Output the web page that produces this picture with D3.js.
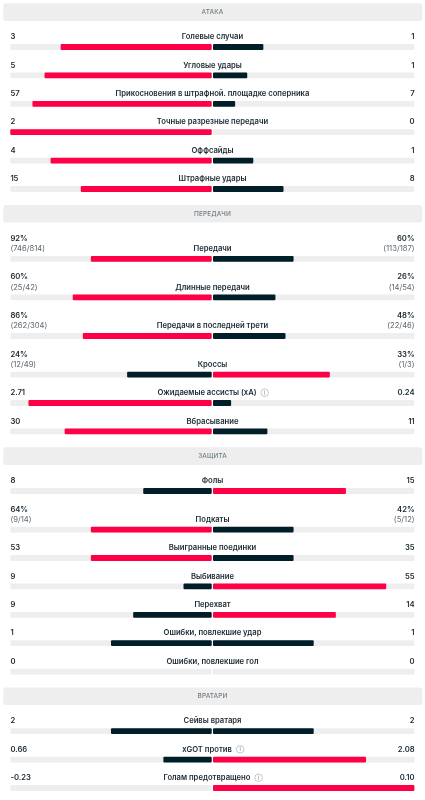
<!DOCTYPE html>
<html><head><meta charset="utf-8">
<script src="https://cdn.jsdelivr.net/npm/d3@7"></script>
<style>html,body{margin:0;padding:0;background:#fff}svg{display:block;filter:blur(0.3px)}text{font-family:Inter,Roboto,sans-serif}</style>
</head><body><div id="c"></div>
<script>
const sections = ["АТАКА","ПЕРЕДАЧИ","ЗАЩИТА","ВРАТАРИ"];
const rowSection = [0,0,0,0,0,0, 1,1,1,1,1,1, 2,2,2,2,2,2,2, 3,3,3];
const labels = ["Голевые случаи","Угловые удары","Прикосновения в штрафной. площадке соперника","Точные разрезные передачи","Оффсайды","Штрафные удары",
 "Передачи","Длинные передачи","Передачи в последней трети","Кроссы","Ожидаемые ассисты (xA)","Вбрасывание",
 "Фолы","Подкаты","Выигранные поединки","Выбивание","Перехват","Ошибки, повлекшие удар","Ошибки, повлекшие гол",
 "Сейвы вратаря","xGOT против","Голам предотвращено"];
// Bar lengths in percent of each half
const homeShare = [75,83,89,100,80,65, 60,69,64,42,91,73, 34,60,60,14,39,50,0, 50,24,0];
const awayShare = [25,17,11,0,20,35, 40,31,36,58,9,27, 66,40,40,86,61,50,0, 50,76,100];
const homeText = ["3","5","57","2","4","15","92%","60%","86%","24%","2.71","30","8","64%","53","9","9","1","0","2","0.66","-0.23"];
const awayText = ["1","1","7","0","1","8","60%","26%","48%","33%","0.24","11","15","42%","35","55","14","1","0","2","2.08","0.10"];
const homeSub = {6:"(746/814)",7:"(25/42)",8:"(262/304)",9:"(12/49)",13:"(9/14)"};
const awaySub = {6:"(113/187)",7:"(14/54)",8:"(22/46)",9:"(1/3)",13:"(5/12)"};
const infoRows = [10,20,21];

const W=425,H=800,mid=212.35,gap=0.65,trackW=201.4,L=10.4,R=414.6;
const PINK="#ff0046",DARK="#001e28",TRACK="#eeeeee",TXT="#1a2830",SUB="#5c6870";
const share=d3.scaleLinear().domain([0,100]).range([0,trackW]).clamp(true);
const svg=d3.select("#c").append("svg").attr("width",W).attr("height",H);

let y=3.3, prev=-1;
labels.forEach((lab,i)=>{
  const s=rowSection[i];
  if(s!==prev){
    if(prev>=0) y+=-2.2;
    svg.append("rect").attr("x",3.3).attr("y",y).attr("width",419).attr("height",17.6).attr("rx",2.5).attr("fill","#eeeeee");
    svg.append("text").attr("x",212.5).attr("y",y+8.9).attr("text-anchor","middle").attr("dominant-baseline","central")
      .attr("font-size",6.4).attr("font-weight",500).attr("letter-spacing",0.15).attr("fill","#6e7a82").text(sections[s]);
    y+=33.4; prev=s;
  }
  const dbl=homeSub[i]!==undefined;
  const labelY=dbl?y+10.2:y, barY=labelY+10.3;
  const t=(x,yy,anchor,txt,w,col,fs)=>svg.append("text").attr("x",x).attr("y",yy).attr("text-anchor",anchor).attr("dominant-baseline","central")
      .attr("font-size",fs||7.65).attr("font-weight",w).attr("fill",col).text(txt);
  t(L,y,"start",homeText[i],600,TXT);
  t(R,y,"end",awayText[i],600,TXT);
  if(dbl){t(L,y+10.2,"start",homeSub[i],400,SUB);t(R,y+10.2,"end",awaySub[i],400,SUB);}
  const lt=t(212.5,labelY,"middle",lab,600,TXT);
  if(infoRows.includes(i)){
    const bb=lt.node().getBBox();
    lt.attr("x",212.5-5.5);
    const cx=212.5-5.5+bb.width/2+8;
    svg.append("circle").attr("cx",cx).attr("cy",labelY).attr("r",3.8).attr("fill","none").attr("stroke","#98a2a8").attr("stroke-width",0.6);
    svg.append("text").attr("x",cx).attr("y",labelY).attr("text-anchor","middle").attr("dominant-baseline","central").attr("font-size",5.5).attr("fill","#7a858c").text("i");
  }
  const a=homeShare[i],b=awayShare[i];
  const hy=barY-2.9,hh=5.8;
  svg.append("rect").attr("x",mid-gap-trackW).attr("y",hy).attr("width",trackW).attr("height",hh).attr("rx",1).attr("fill",TRACK);
  svg.append("rect").attr("x",mid+gap).attr("y",hy).attr("width",trackW).attr("height",hh).attr("rx",1).attr("fill",TRACK);
  const hc=a>b?PINK:DARK, ac=b>a?PINK:DARK;
  if(a>0) svg.append("rect").attr("x",mid-gap-share(a)).attr("y",hy).attr("width",share(a)).attr("height",hh).attr("rx",1).attr("fill",hc);
  if(b>0) svg.append("rect").attr("x",mid+gap).attr("y",hy).attr("width",share(b)).attr("height",hh).attr("rx",1).attr("fill",ac);
  y=barY+18.1;
});
</script></body></html>
